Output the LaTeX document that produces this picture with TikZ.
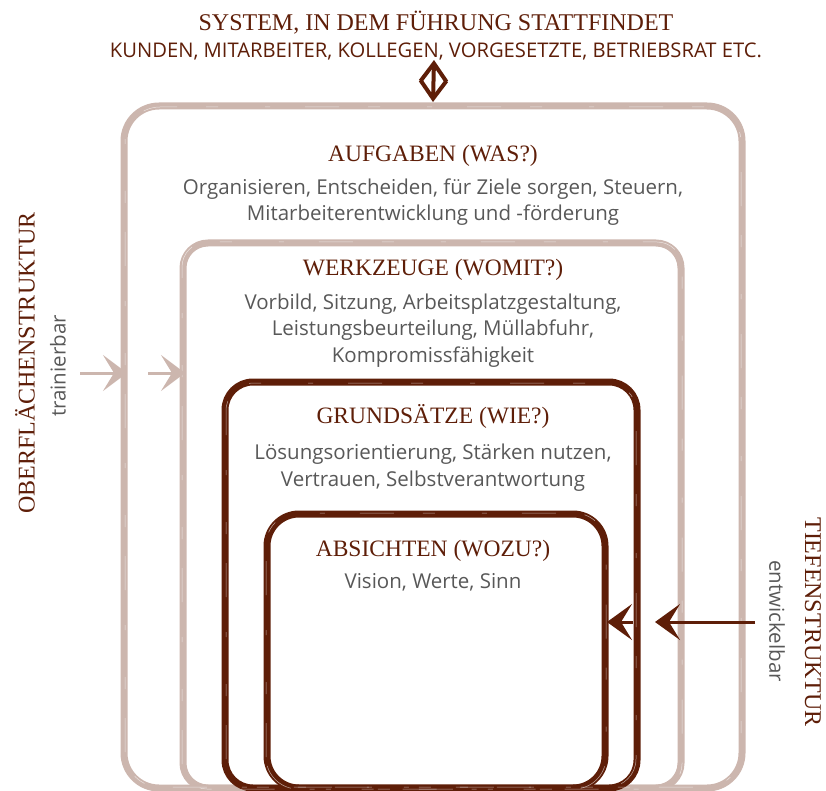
\documentclass[tikz,border=0pt]{standalone}
\usepackage{fontspec}
\setmainfont{Liberation Serif}
\newfontfamily\bodyfont{Open Sans}
\usetikzlibrary{arrows.meta,calc}
\definecolor{lightc}{RGB}{204,182,174}
\definecolor{darkc}{RGB}{94,30,8}
\definecolor{graytext}{RGB}{88,88,88}
\begin{document}
\begin{tikzpicture}[x=1pt,y=-1pt,
  lightbox/.style={draw=lightc, line width=7pt, inner sep=0pt, outer sep=0pt},
  darkbox/.style={draw=darkc, line width=7pt, inner sep=0pt, outer sep=0pt},
  streakA/.style={draw=white, line width=0.5pt, opacity=0.6, dash pattern=on 34pt off 29pt on 12pt off 47pt on 5pt off 35pt},
  heading/.style={text=darkc, font=\fontsize{23.5}{26}\selectfont, inner sep=0pt, anchor=base},
  body/.style={text=graytext, font=\bodyfont\fontsize{20.5}{26.5}\selectfont, align=center, inner sep=0pt, anchor=base},
  larrow/.style={draw=lightc, line width=3pt, -{Stealth[length=24pt,width=36pt,inset=11pt]}},
  darrow/.style={draw=darkc, line width=3pt, -{Stealth[length=25pt,width=36pt,inset=11pt]}},
  toparrow/.style={draw=darkc, line width=4pt, {Straight Barb[length=18pt,width=26pt]}-{Straight Barb[length=18pt,width=26pt]}}
]
\useasboundingbox (0,0) rectangle (826,791);

% boxes
\node[lightbox, rounded corners=35pt, minimum width=618pt, minimum height=682pt] (b1) at (433,447) {};
\node[lightbox, rounded corners=25pt, minimum width=498pt, minimum height=545pt] (b2) at (432,515.5) {};
\node[darkbox, rounded corners=28pt, minimum width=412pt, minimum height=406pt] (b3) at (431,585) {};
\node[darkbox, rounded corners=32pt, minimum width=338pt, minimum height=274pt] (b4) at (436,651) {};

% brush streaks
\draw[streakA, rounded corners=35pt] ($(b1.south west)+(1,-1)$) rectangle ($(b1.north east)+(-1,1)$);
\draw[streakA, rounded corners=25pt] ($(b2.south west)+(-1,1)$) rectangle ($(b2.north east)+(1,-1)$);
\draw[streakA, rounded corners=28pt] ($(b3.south west)+(1,-1)$) rectangle ($(b3.north east)+(-1,1)$);
\draw[streakA, rounded corners=32pt] ($(b4.south west)+(-1,1)$) rectangle ($(b4.north east)+(1,-1)$);

% top title
\node[heading, font=\fontsize{24}{26}\selectfont] (sys) at (436,31) {SYSTEM, IN DEM FÜHRUNG STATTFINDET};
\node[heading, font=\bodyfont\fontsize{20.2}{22}\selectfont] (sysl) at (436,58) {KUNDEN, MITARBEITER, KOLLEGEN, VORGESETZTE, BETRIEBSRAT ETC.};

% box texts (body nodes are anchored at the baseline of their last line)
\node[heading] (h1) at (433,162) {AUFGABEN (WAS?)};
\node[body] (t1) at (433,221) {Organisieren, Entscheiden, für Ziele sorgen, Steuern,\\Mitarbeiterentwicklung und -förderung};
\node[heading] (h2) at (433,276) {WERKZEUGE (WOMIT?)};
\node[body] (t2) at (433,362) {Vorbild, Sitzung, Arbeitsplatzgestaltung,\\Leistungsbeurteilung, Müllabfuhr,\\Kompromissfähigkeit};
\node[heading] (h3) at (433,423) {GRUNDSÄTZE (WIE?)};
\node[body] (t3) at (433,486) {Lösungsorientierung, Stärken nutzen,\\Vertrauen, Selbstverantwortung};
\node[heading] (h4) at (433,556) {ABSICHTEN (WOZU?)};
\node[body] (t4) at (433,588) {Vision, Werte, Sinn};

% side labels
\node[heading, anchor=center, rotate=90, font=\fontsize{24}{26}\selectfont] (ober) at (25,363) {OBERFLÄCHENSTRUKTUR};
\node[body, anchor=center, rotate=90] (train) at (58,366) {trainierbar};
\node[heading, anchor=center, rotate=-90, font=\fontsize{24}{26}\selectfont] (tief) at (813,622) {TIEFENSTRUKTUR};
\node[body, anchor=center, rotate=-90] (entw) at (777,621) {entwickelbar};

% arrows
\coordinate (ta) at (434,60);
\draw[toparrow] (ta) -- ($(b1.north)+(0,-4)$);
\coordinate (la1) at (80,373);
\coordinate (la2) at (148,373);
\draw[larrow] (la1) -- ($(b1.west |- la1)+(3,0)$);
\draw[larrow] (la2) -- ($(b2.west |- la2)+(2,0)$);
\coordinate (ra1) at (755,622);
\draw[darrow] (ra1) -- ($(b3.east |- ra1)+(18,0)$);
\draw[darrow] ($(b3.east |- ra1)+(-4,0)$) -- ($(b4.east |- ra1)+(2,0)$);
\end{tikzpicture}
\end{document}
